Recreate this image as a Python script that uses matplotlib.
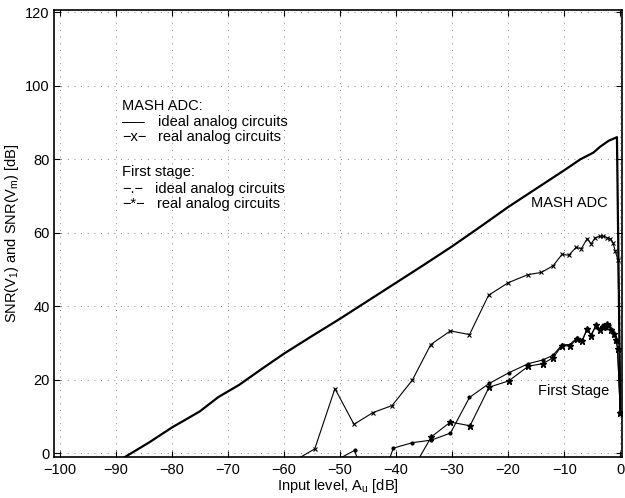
import matplotlib.pyplot as plt

plt.rcParams["font.family"] = ["Liberation Sans", "DejaVu Sans"]
plt.rcParams["mathtext.fontset"] = "custom"
plt.rcParams["mathtext.rm"] = "Liberation Sans"
plt.rcParams["mathtext.default"] = "regular"
plt.rcParams["font.size"] = 10.5

# ---- DATA ----
mash_ideal_x = [-89, -84, -80, -75, -71.7, -68, -64, -60, -55, -50, -45, -40, -35, -30,
                -25, -20, -15, -10, -7.1, -4.8, -3.6, -2.1, -1.2, -0.6, 0]
mash_ideal_y = [-1.6, 3.0, 7.0, 11.4, 15.3, 18.6, 22.9, 27.1, 31.9, 36.6, 41.5, 46.4, 51.3, 56.3,
                61.6, 67.0, 72.0, 77.0, 80.0, 81.8, 83.4, 85.0, 85.6, 86.0, 11]

mash_real_x = [-57.9, -54.5, -50.9, -47.5, -44.1, -40.7, -37.1, -33.8, -30.3, -26.9, -23.5, -20,
               -16.5, -14.1, -12, -10.4, -9.2, -7.9, -6.95, -5.9, -5.2, -4.5, -3.7, -3.1, -2.4,
               -1.8, -1.3, -0.9, -0.4, 0]
mash_real_y = [-1.8, 1.2, 17.6, 7.9, 11.1, 13.0, 19.9, 29.6, 33.3, 32.3, 43.0, 46.4,
               48.6, 49.2, 51.0, 54.1, 53.9, 56.0, 55.7, 58.4, 57.0, 58.6, 59.0, 59.1, 58.7,
               58.4, 57.2, 55.0, 52.5, 11]

first_ideal_x = [-50.8, -47.4, -44.0, -40.5, -37.1, -33.7, -30.3, -26.9, -23.4, -19.9, -16.4,
                 -13.8, -12, -10.4, -9, -7.8, -6.8, -6, -5.2, -4.4, -3.7, -3.1, -2.5, -2,
                 -1.5, -1.1, -0.7, -0.5, 0]
first_ideal_y = [-2.0, 0.8, -14, 1.4, 2.9, 3.6, 5.5, 15.2, 19.0, 21.9, 24.4,
                 25.4, 26.7, 29.5, 29.6, 31.3, 30.8, 33.5, 32.3, 34.5, 33.8, 35.0, 34.2, 34.8,
                 33.5, 32.5, 30.5, 28.5, 11]

first_real_x = [-37.1, -33.7, -30.3, -26.8, -23.4, -19.9, -16.4, -13.8, -12, -10.4, -9.0,
                -7.8, -6.8, -5.9, -5.2, -4.3, -3.6, -3.0, -2.4, -1.7, -1.2, -0.7, -0.5, 0]
first_real_y = [-4.5, 4.5, 8.5, 7.5, 18.0, 19.7, 23.7, 24.4, 26.0, 29.3, 29.2,
                31.0, 30.5, 33.9, 32.0, 35.0, 33.6, 34.5, 35.3, 33.6, 32.5, 30.7, 28.5, 11]

x_ticks = list(range(-100, 1, 10))
y_ticks = list(range(0, 121, 20))

# ---- PLOT ----
fig = plt.figure(figsize=(6.25, 4.98), dpi=100)
ax = fig.add_axes([0.0864, 0.0823, 0.9088, 0.8977])

ax.plot(mash_ideal_x, mash_ideal_y, color="k", lw=1.6)
ax.plot(mash_real_x, mash_real_y, color="k", lw=0.8, marker="x", ms=3.5, mew=0.8)
ax.plot(first_ideal_x, first_ideal_y, color="k", lw=0.8, marker=".", ms=4)
ax.plot(first_real_x, first_real_y, color="k", lw=0.8, marker="*", ms=5)

ax.text(-16, 68, "MASH ADC", va="center", ha="left")
ax.text(-14.6, 17, "First Stage", va="center", ha="left")

# legend written as plain text, like the original
ax.text(-88.8, 94.4, "MASH ADC:", va="center")
ax.text(-88.8, 90.1, "\u2014\u2013", va="center")
ax.text(-82.4, 90.1, "ideal analog circuits", va="center")
ax.text(-88.8, 86.1, "\u2212x\u2212", va="center")
ax.text(-82.4, 86.1, "real analog circuits", va="center")
ax.text(-88.8, 76.4, "First stage:", va="center")
ax.text(-88.8, 72.0, "\u2212.\u2212", va="center")
ax.text(-82.9, 72.0, "ideal analog circuits", va="center")
ax.text(-88.8, 67.7, "\u2212*\u2212", va="center")
ax.text(-82.6, 67.7, "real analog circuits", va="center")

ax.set_xlim(-101, 0.3)
ax.set_ylim(-1, 120.6)
ax.set_xticks(x_ticks)
ax.set_yticks(y_ticks)
ax.grid(True, color="0.35", lw=0.6, linestyle=(0, (1, 7)))
ax.tick_params(direction="in", length=4, width=0.8, top=True, right=True)
ax.tick_params(axis="x", pad=4)
ax.tick_params(axis="y", pad=3)
for s in ax.spines.values():
    s.set_linewidth(1.2)

ax.set_xlabel("Input level, A$_u$ [dB]", labelpad=0)
ax.set_ylabel("SNR(V$_1$) and SNR(V$_m$) [dB]", labelpad=3)

plt.savefig("out.png", dpi=100)
plt.close()
